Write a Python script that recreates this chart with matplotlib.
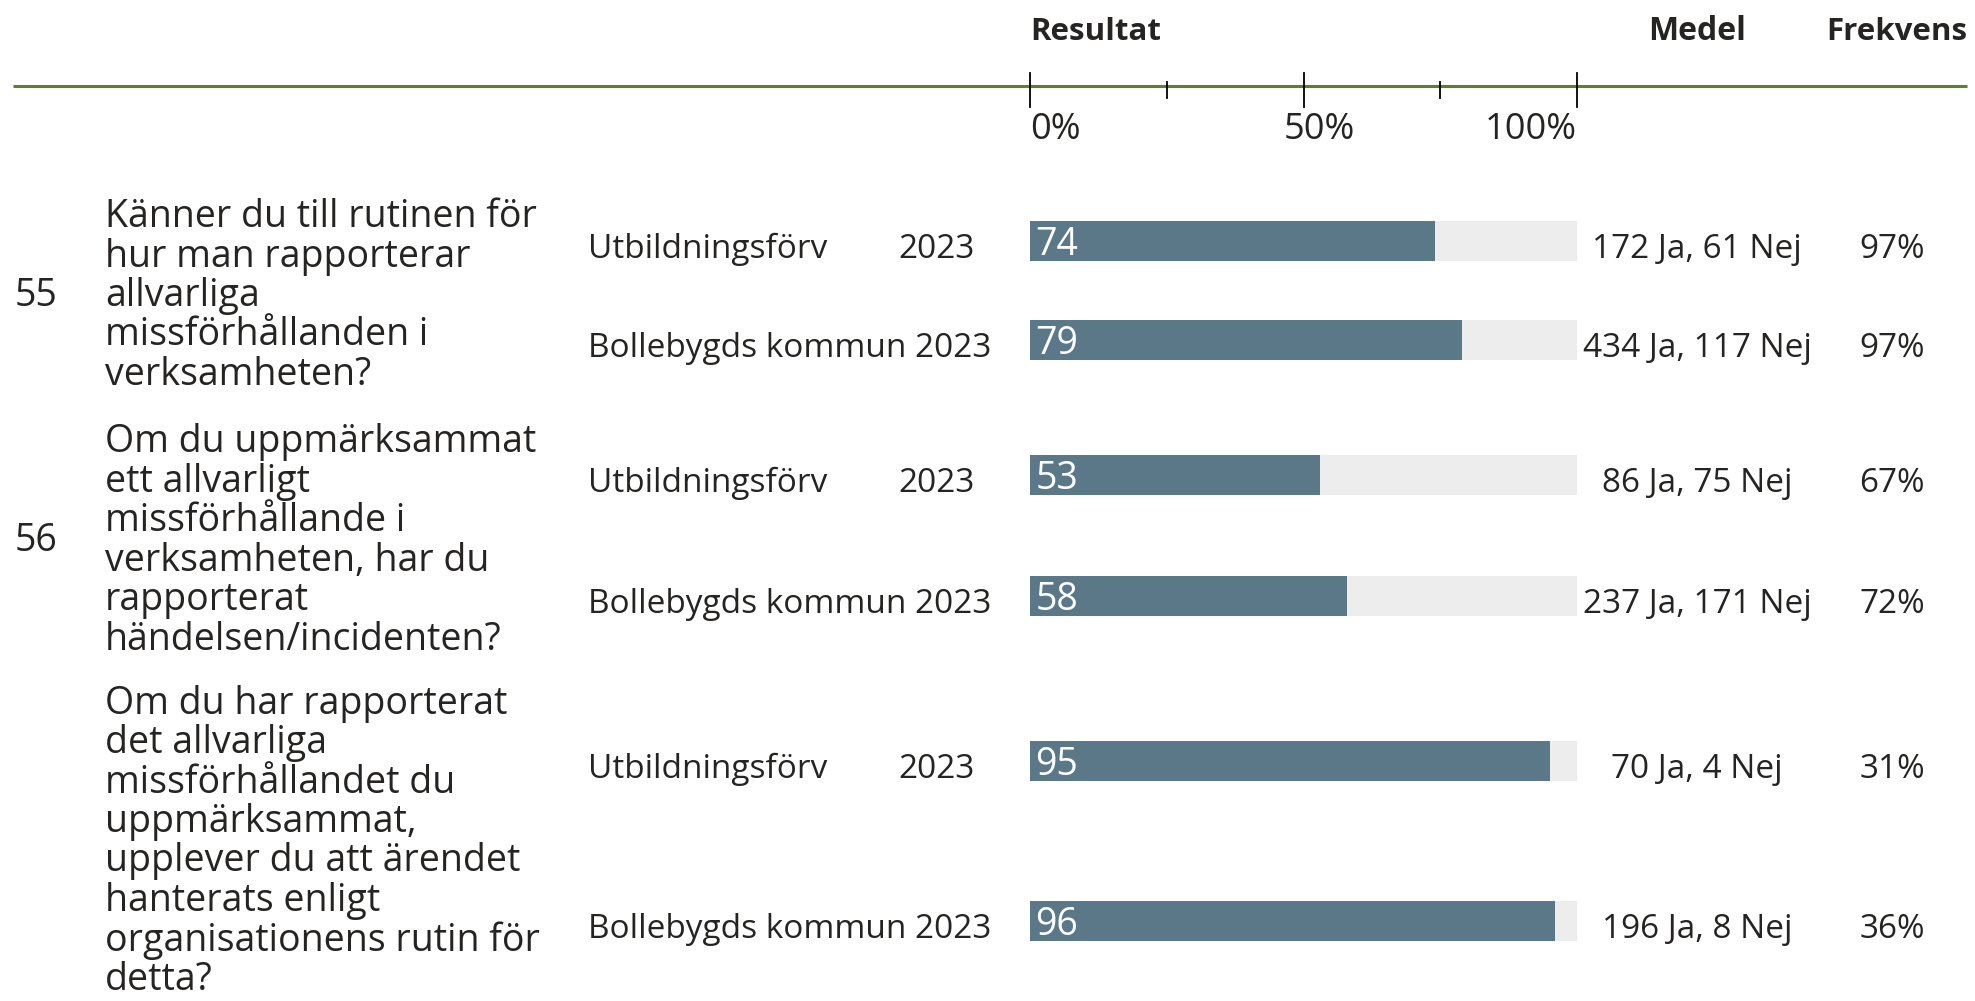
import matplotlib.pyplot as plt

plt.rcParams['font.family'] = ['Open Sans', 'DejaVu Sans']

# Data
questions = [
    "Känner du till rutinen för\nhur man rapporterar\nallvarliga\nmissförhållanden i\nverksamheten?",
    "Om du uppmärksammat\nett allvarligt\nmissförhållande i\nverksamheten, har du\nrapporterat\nhändelsen/incidenten?",
    "Om du har rapporterat\ndet allvarliga\nmissförhållandet du\nuppmärksammat,\nupplever du att ärendet\nhanterats enligt\norganisationens rutin för\ndetta?",
]
q_numbers = ["55", "56", ""]
groups = ["Utbildningsförv", "Bollebygds kommun"]
year = "2023"
results = [74, 79, 53, 58, 95, 96]
ja = [172, 434, 86, 237, 70, 196]
nej = [61, 117, 75, 171, 4, 8]
frekvens = [97, 97, 67, 72, 31, 36]

# Layout (pixel positions)
W, H = 1975, 1001
row_y = [241, 340, 475, 596, 761, 921]
q_y = [296, 541, 842]
bar_x0, bar_x1 = 1030, 1577
bar_h = 40

text_col = '#252423'
bar_col = '#5B7889'
bg_col = '#EDEDED'
line_col = '#5B8030'

fig = plt.figure(figsize=(W / 100, H / 100), dpi=100)
fig.patch.set_facecolor('white')

# overlay axes for text in pixel coords
ov = fig.add_axes([0, 0, 1, 1])
ov.set_xlim(0, W)
ov.set_ylim(H, 0)
ov.axis('off')

# bar axes, x in percent
ax = fig.add_axes([bar_x0 / W, 0, (bar_x1 - bar_x0) / W, 1])
ax.set_xlim(0, 100)
ax.set_ylim(H, 0)
ax.axis('off')
ax.patch.set_alpha(0)

ax.barh(row_y, [100] * len(results), height=bar_h, color=bg_col)
ax.barh(row_y, results, height=bar_h, color=bar_col)
for y, v in zip(row_y, results):
    ax.text(1, y + 14, str(v), color='white', fontsize=27, va='baseline', ha='left')

# header line and ticks
ov.plot([13, 1967], [86, 86], color=line_col, lw=2.2, solid_capstyle='butt')
for t in [0, 50, 100]:
    ax.plot([t, t], [73, 107], color='black', lw=1.3, clip_on=False)
for t in [25, 75]:
    ax.plot([t, t], [82, 98], color='black', lw=1.3, clip_on=False)
ax.text(0, 139, "0%", fontsize=26, color=text_col, ha='left', va='baseline')
ax.text(52.9, 139, "50%", fontsize=26, color=text_col, ha='center', va='baseline')
ax.text(100, 139, "100%", fontsize=26, color=text_col, ha='right', va='baseline')

# column headers
ov.text(bar_x0, 40, "Resultat", fontsize=22.5, fontweight='bold', color=text_col, va='baseline', ha='left')
ov.text(1697, 40, "Medel", fontsize=23, fontweight='bold', color=text_col, va='baseline', ha='center')
ov.text(1967, 40, "Frekvens", fontsize=22.5, fontweight='bold', color=text_col, va='baseline', ha='right')

# questions
for q, n, y in zip(questions, q_numbers, q_y):
    ov.text(15, y, n, fontsize=27, color=text_col, va='center', ha='left')
    ov.text(105, y, q, fontsize=27, color=text_col, va='center', ha='left', linespacing=1.05)

# row labels and values
for i, y in enumerate(row_y):
    g = groups[i % 2]
    if i % 2 == 0:
        ov.text(588, y + 17, g, fontsize=24, color=text_col, va='baseline', ha='left')
        ov.text(975, y + 17, year, fontsize=24, color=text_col, va='baseline', ha='right')
    else:
        ov.text(588, y + 17, g + " " + year, fontsize=24, color=text_col, va='baseline', ha='left')
    ov.text(1697, y + 17, f"{ja[i]} Ja, {nej[i]} Nej", fontsize=24, color=text_col, va='baseline', ha='center')
    ov.text(1925, y + 17, f"{frekvens[i]}%", fontsize=24, color=text_col, va='baseline', ha='right')

fig.savefig('out.png', dpi=100)
